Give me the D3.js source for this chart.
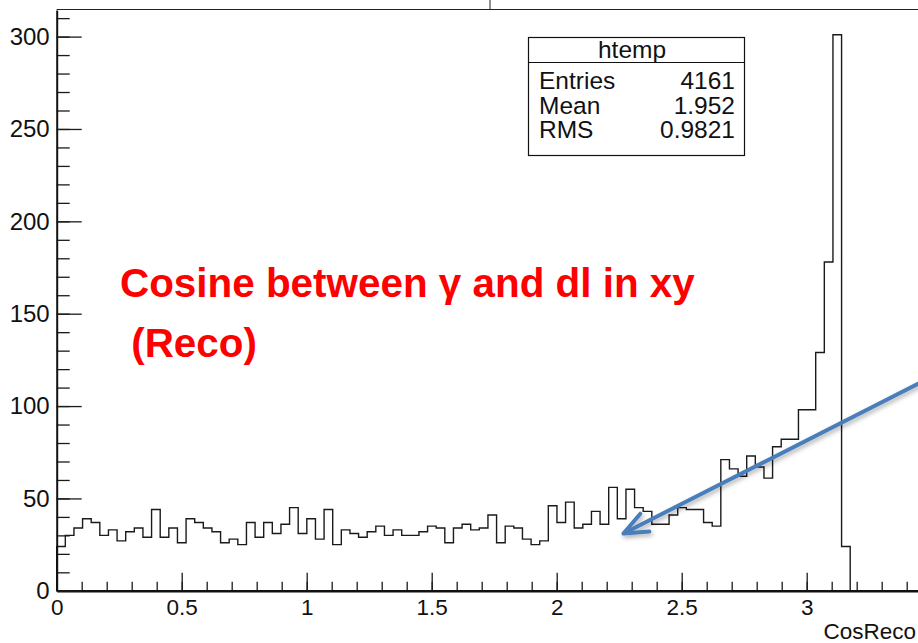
<!DOCTYPE html>
<html>
<head>
<meta charset="utf-8">
<script src="https://cdn.jsdelivr.net/npm/d3@7"></script>
<style>
  body { margin: 0; background: #fff; overflow: hidden; }
  svg text { font-family: "Liberation Sans", Arial, Helvetica, sans-serif; }
</style>
</head>
<body>
<div id="chart"></div>
<script>
// histogram contents (htemp), bins of equal width starting at 0
var binCounts = [
  24, 30, 34, 39, 37, 30, 33, 27, 32, 34,
  29, 44, 29, 34, 26, 39, 37, 34, 32, 26,
  28, 25, 37, 29, 37, 31, 36, 45, 31, 39,
  28, 44, 25, 33, 31, 29, 32, 35, 30, 33,
  30, 30, 32, 35, 34, 26, 34, 36, 33, 34,
  41, 26, 35, 34, 28, 25, 27, 46, 37, 48,
  34, 36, 43, 36, 56, 39, 55, 45, 43, 36,
  36, 41, 45, 44, 44, 37, 35, 71, 66, 62,
  73, 67, 61, 78, 82, 82, 98, 98, 129, 178,
  301, 24
];
var binWidth = 0.0345;
var xMajorTicks = [0, 0.5, 1, 1.5, 2, 2.5, 3];
var yMajorTicks = [0, 50, 100, 150, 200, 250, 300];
var xTitle = "CosReco";
var statsTitle = "htemp";
var statsRows = [["Entries", "4161"], ["Mean", "1.952"], ["RMS", "0.9821"]];
var noteLines = ["Cosine between \u03b3 and dl in xy", " (Reco)"];
// annotation arrow, in data coordinates (from -> to)
var arrowFrom = [3.473, 114];
var arrowTo = [2.267, 31];

var width = 918, height = 643;

var svg = d3
  .select("#chart")
  .append("svg")
  .attr("width", width)
  .attr("height", height);

var x = d3.scaleLinear().domain([0, 3.5]).range([56.7, 56.7 + 3.5 * 250]);
var y = d3.scaleLinear().domain([0, 314.4]).range([590.8, 10]);

// frame top line and little slide edge above it
svg.append("line")
  .attr("x1", x(0)).attr("x2", x.range()[1])
  .attr("y1", 9.5).attr("y2", 9.5)
  .attr("stroke", "#222").attr("stroke-width", 1.2);
svg.append("line")
  .attr("x1", 490).attr("x2", 490)
  .attr("y1", 0).attr("y2", 9.5)
  .attr("stroke", "#222").attr("stroke-width", 1);

// histogram outline
var verts = [[0, 0]];
binCounts.forEach(function (c, i) {
  verts.push([i * binWidth, c]);
  verts.push([(i + 1) * binWidth, c]);
});
verts.push([binCounts.length * binWidth, 0]);

var line = d3.line()
  .x(function (d) { return x(d[0]); })
  .y(function (d) { return y(d[1]); });

svg.append("path")
  .attr("d", line(verts))
  .attr("fill", "none")
  .attr("stroke", "#1a1a1a")
  .attr("stroke-width", 1.4);

// x axis
var gx = svg.append("g").attr("transform", "translate(0," + y(0) + ")");
gx.append("g")
  .call(d3.axisBottom(x).tickValues(d3.range(0, 3.45, 0.1)).tickSize(-9).tickSizeOuter(0).tickFormat(""))
  .call(function (g) { g.select(".domain").remove(); });
gx.append("g")
  .call(d3.axisBottom(x).tickValues(xMajorTicks).tickSize(-18).tickSizeOuter(0).tickPadding(8)
    .tickFormat(function (d) { return d3.format("")(d); }))
  .call(function (g) {
    g.select(".domain").attr("stroke-width", 2.4).attr("stroke", "#111");
    g.selectAll("text").attr("font-size", 22.5).attr("fill", "#111");
  });
svg.selectAll("g.tick line").attr("stroke", "#1a1a1a").attr("stroke-width", 1.3);

// y axis
var gy = svg.append("g").attr("transform", "translate(" + x(0) + ",0)");
gy.append("g")
  .call(d3.axisLeft(y).tickValues(d3.range(0, 315, 10)).tickSize(-13).tickSizeOuter(0).tickFormat(""))
  .call(function (g) { g.select(".domain").remove(); });
gy.append("g")
  .call(d3.axisLeft(y).tickValues(yMajorTicks).tickSize(-25).tickSizeOuter(0).tickPadding(7))
  .call(function (g) {
    g.select(".domain").attr("stroke-width", 2).attr("stroke", "#111");
    g.selectAll("text").attr("font-size", 24).attr("fill", "#111");
  });
gy.selectAll("g.tick line").attr("stroke", "#1a1a1a").attr("stroke-width", 1.3);

// axis title
svg.append("text")
  .attr("x", 916).attr("y", 639)
  .attr("text-anchor", "end")
  .attr("font-size", 22.5)
  .attr("fill", "#111")
  .text(xTitle);

// stats box
var box = svg.append("g");
box.append("rect")
  .attr("x", 528.5).attr("y", 37.5)
  .attr("width", 216).attr("height", 118)
  .attr("fill", "#fff").attr("stroke", "#111").attr("stroke-width", 1.2);
box.append("line")
  .attr("x1", 528.5).attr("x2", 744.5)
  .attr("y1", 62.5).attr("y2", 62.5)
  .attr("stroke", "#111").attr("stroke-width", 1.2);
box.append("text")
  .attr("x", 632).attr("y", 58)
  .attr("text-anchor", "middle")
  .attr("font-size", 24.5).attr("fill", "#111")
  .text(statsTitle);
statsRows.forEach(function (r, i) {
  var yy = 89 + i * 24.5;
  box.append("text").attr("x", 539).attr("y", yy)
    .attr("font-size", 24.5).attr("fill", "#111").text(r[0]);
  box.append("text").attr("x", 735).attr("y", yy)
    .attr("text-anchor", "end")
    .attr("font-size", 24.5).attr("fill", "#111").text(r[1]);
});

// red annotation text
var note = svg.append("g");
var t1 = note.append("text")
  .attr("x", 120).attr("y", 297)
  .attr("font-family", "Lato, 'Open Sans', sans-serif")
  .attr("font-weight", 700)
  .attr("font-size", 40)
  .attr("fill", "#ff0000")
  .style("white-space", "pre")
  .text(noteLines[0]);
var fs = 40 * 575 / t1.node().getComputedTextLength();
t1.attr("font-size", fs);
note.append("text")
  .attr("x", 120).attr("y", 357)
  .attr("font-family", "Lato, 'Open Sans', sans-serif")
  .attr("font-weight", 700)
  .attr("font-size", fs)
  .attr("fill", "#ff0000")
  .style("white-space", "pre")
  .text(noteLines[1]);

// blue arrow
var defs = svg.append("defs");
var shadow = defs.append("filter").attr("id", "shadow")
  .attr("x", "-20%").attr("y", "-20%").attr("width", "140%").attr("height", "140%");
shadow.append("feDropShadow")
  .attr("dx", 1.5).attr("dy", 2.5).attr("stdDeviation", 2)
  .attr("flood-color", "#000").attr("flood-opacity", 0.3);
defs.append("marker")
  .attr("id", "arrowhead")
  .attr("viewBox", "-30 -15 34 30")
  .attr("refX", 0).attr("refY", 0)
  .attr("markerWidth", 34).attr("markerHeight", 30)
  .attr("markerUnits", "userSpaceOnUse")
  .attr("orient", "auto")
  .append("path")
  .attr("d", "M-24,-10L0,0L-24,10")
  .attr("fill", "none")
  .attr("stroke", "#4a7ebb")
  .attr("stroke-width", 4)
  .attr("stroke-linecap", "round")
  .attr("stroke-linejoin", "round");

svg.append("line")
  .attr("x1", x(arrowFrom[0])).attr("y1", y(arrowFrom[1]))
  .attr("x2", x(arrowTo[0])).attr("y2", y(arrowTo[1]))
  .attr("stroke", "#4a7ebb")
  .attr("stroke-width", 4)
  .attr("marker-end", "url(#arrowhead)")
  .attr("filter", "url(#shadow)");
</script>
</body>
</html>
